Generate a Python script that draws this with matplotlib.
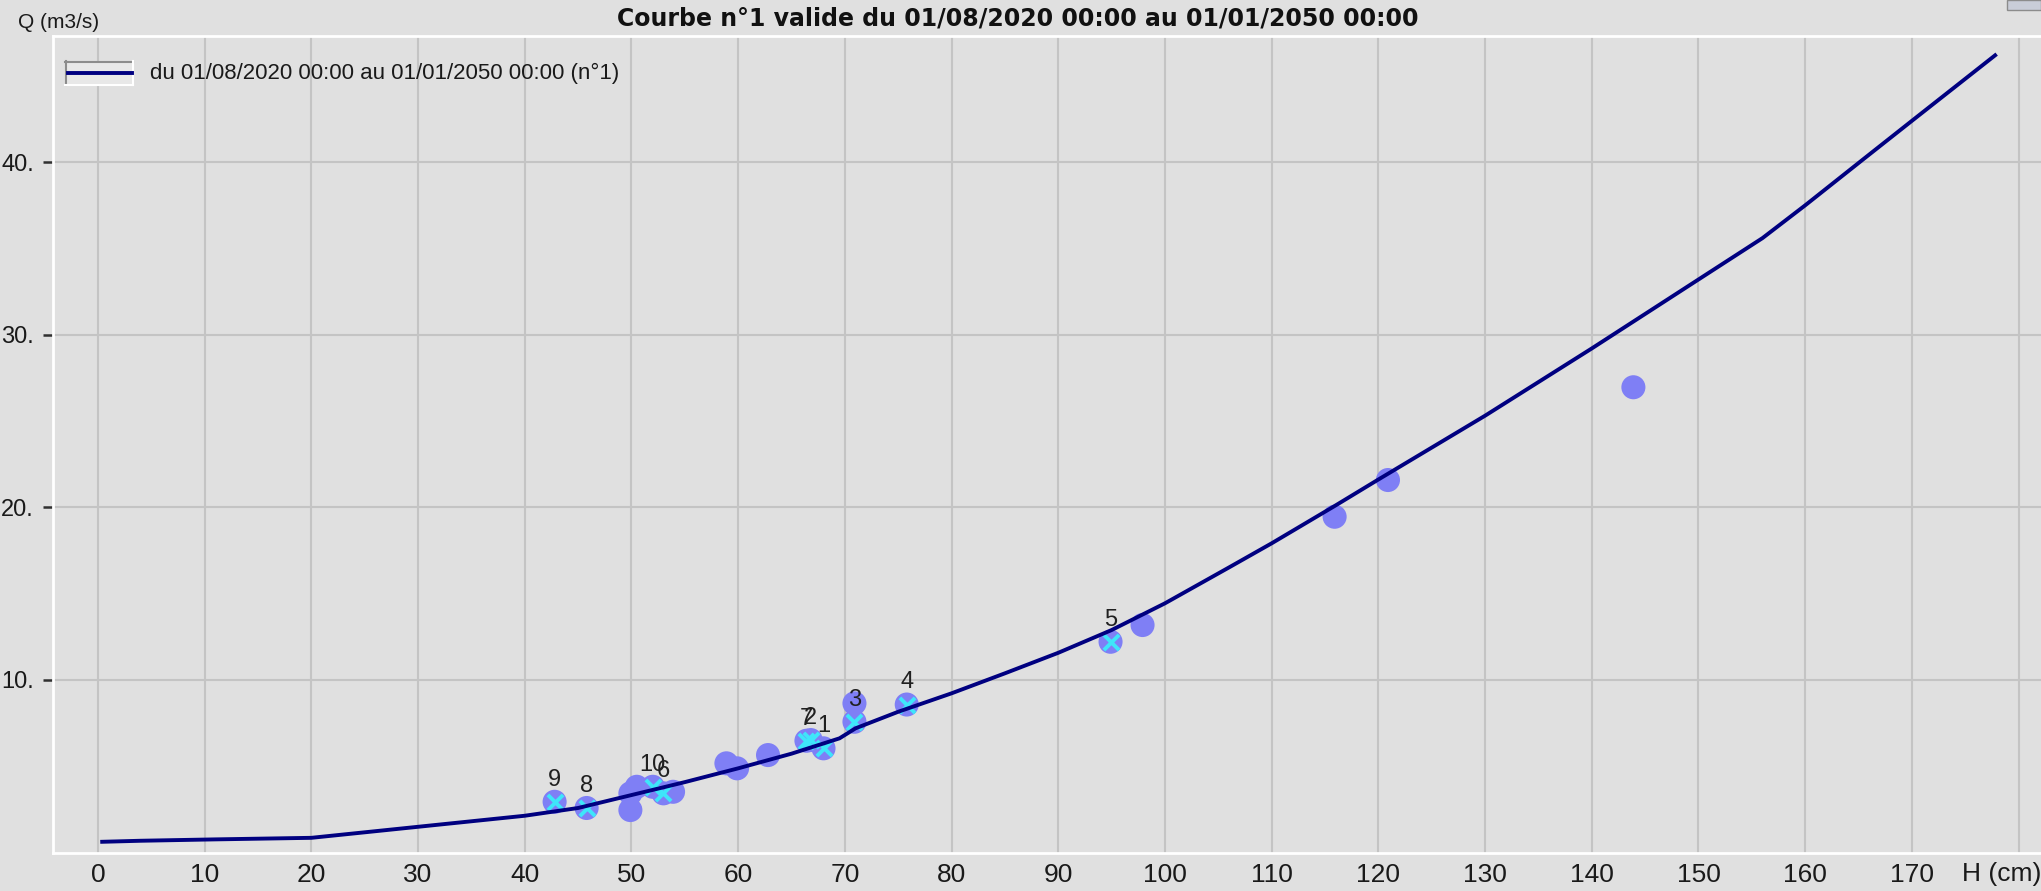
import matplotlib
matplotlib.use('Agg')
import matplotlib.pyplot as plt
from matplotlib.lines import Line2D
from matplotlib.patches import Rectangle

W, H = 2041, 891
DPI = 100

# ---- data ----
curve_h = [0.4, 4, 11, 20, 30, 40, 45, 50, 55, 60, 65, 69.5, 71, 75, 80, 85, 90, 95,
           100, 106, 110, 116, 120, 130, 140, 150, 156, 160, 165.5, 170, 177.8]
curve_q = [0.59, 0.65, 0.73, 0.82, 1.46, 2.1, 2.55, 3.3, 4.05, 4.85, 5.7, 6.59, 7.17, 8.13,
           9.2, 10.36, 11.55, 12.87, 14.42, 16.5, 17.9, 20.1, 21.6, 25.3, 29.2, 33.2,
           35.6, 37.5, 40.2, 42.4, 46.2]

pts_h = [49.9, 49.9, 50.5, 53.9, 58.9, 59.9, 62.8, 70.9, 97.9, 115.9, 120.9, 143.9]
pts_q = [3.40, 2.43, 3.78, 3.49, 5.14, 4.85, 5.62, 8.62, 13.16, 19.44, 21.57, 26.95]

lab_h = [42.8, 45.8, 52.0, 53.0, 66.4, 66.8, 68.0, 70.9, 75.8, 94.9]
lab_q = [2.91, 2.55, 3.78, 3.40, 6.45, 6.49, 6.01, 7.55, 8.55, 12.19]
lab_txt = ['9', '8', '10', '6', '7', '2', '1', '3', '4', '5']

xticks = list(range(0, 190, 10))
xtick_labels = [str(v) for v in range(0, 180, 10)] + ['']
yticks = [10, 20, 30, 40]
ytick_labels = ['10.', '20.', '30.', '40.']

title = "Courbe n°1 valide du 01/08/2020 00:00 au 01/01/2050 00:00"
legend_label = "du 01/08/2020 00:00 au 01/01/2050 00:00 (n°1)"
ylabel = "Q (m3/s)"
xlabel = "H (cm)"

NARROW = ['Liberation Sans Narrow', 'Liberation Sans', 'DejaVu Sans']
BG = '#E0E0E0'
NAVY = '#000080'
PURPLE = '#7F7FF5'
CYAN = '#3EE6FA'


def fx(x):
    return x / W


def fy(y):
    return 1 - y / H


fig = plt.figure(figsize=(W / DPI, H / DPI), dpi=DPI, facecolor=BG)
ax = fig.add_axes([fx(53), fy(853), 1 - fx(53), fy(36) - fy(853)])
ax.set_facecolor(BG)
ax.set_xlim(-4.21, 182.1)
ax.set_ylim(-0.06, 47.32)
ax.set_xticks(xticks)
ax.set_xticklabels(xtick_labels)
ax.set_yticks(yticks)
ax.set_yticklabels(ytick_labels)
ax.grid(True, color='#C4C4C4', lw=1.5)
ax.set_axisbelow(True)
ax.tick_params(axis='x', length=0, pad=7, labelsize=19, labelcolor='#1a1a1a')
ax.tick_params(axis='y', length=7.2, width=1.8, color='#303030', pad=6.5,
               labelsize=17, labelcolor='#1a1a1a')
for lab in ax.get_xticklabels() + ax.get_yticklabels():
    lab.set_family(NARROW)
for s in ['top', 'left', 'bottom']:
    ax.spines[s].set_color('white')
    ax.spines[s].set_linewidth(2)
ax.spines['right'].set_visible(False)

# gauging points
ax.scatter(pts_h + lab_h, pts_q + lab_q, s=300, color=PURPLE, edgecolors='none', zorder=3)
ax.scatter(lab_h, lab_q, s=120, marker='x', color=CYAN, linewidths=2.8, zorder=4)
# rating curve
ax.plot(curve_h, curve_q, color=NAVY, lw=2.8, zorder=5, solid_joinstyle='round')
for h, q, t in zip(lab_h, lab_q, lab_txt):
    ax.annotate(t, (h, q), xytext=(0, 16), textcoords='offset points', ha='center',
                va='center', fontsize=17, color='#202020', family=NARROW, zorder=6)

# texts
fig.text(fx(1018), fy(18), title, ha='center', va='center', fontsize=17,
         fontweight='bold', family='DejaVu Sans', color='#111111')
fig.text(fx(18), fy(23), ylabel, ha='left', va='center', fontsize=15, family=NARROW,
         color='#1a1a1a')
fig.text(fx(1962), fy(874), xlabel, ha='left', va='center', fontsize=19, family=NARROW,
         color='#1a1a1a')

# legend (manual, sunken sample box)
fig.add_artist(Rectangle((fx(65), fy(85)), fx(133) - fx(65), fy(61) - fy(85),
                         transform=fig.transFigure, facecolor='#E8E8E8', edgecolor='none'))
fig.add_artist(Line2D([fx(65), fx(133)], [fy(62), fy(62)], color='#8C8C8C', lw=1.5,
                      transform=fig.transFigure))
fig.add_artist(Line2D([fx(66), fx(66)], [fy(61), fy(85)], color='#8C8C8C', lw=1.5,
                      transform=fig.transFigure))
fig.add_artist(Line2D([fx(65), fx(133)], [fy(85), fy(85)], color='white', lw=1.5,
                      transform=fig.transFigure))
fig.add_artist(Line2D([fx(133), fx(133)], [fy(61), fy(85)], color='white', lw=1.5,
                      transform=fig.transFigure))
fig.add_artist(Line2D([fx(68), fx(131.5)], [fy(73.3), fy(73.3)], color=NAVY, lw=2.8,
                      transform=fig.transFigure))
fig.text(fx(150), fy(73), legend_label, ha='left', va='center', fontsize=16, family=NARROW,
         color='#1a1a1a')

# small window icon at top-right
fig.add_artist(Rectangle((fx(2007), fy(10)), fx(2041) - fx(2007), fy(0) - fy(10),
                         transform=fig.transFigure, facecolor='#C9CDD8', edgecolor='#8C8C8C',
                         lw=1))

fig.savefig('out.png', dpi=DPI, facecolor=BG)
